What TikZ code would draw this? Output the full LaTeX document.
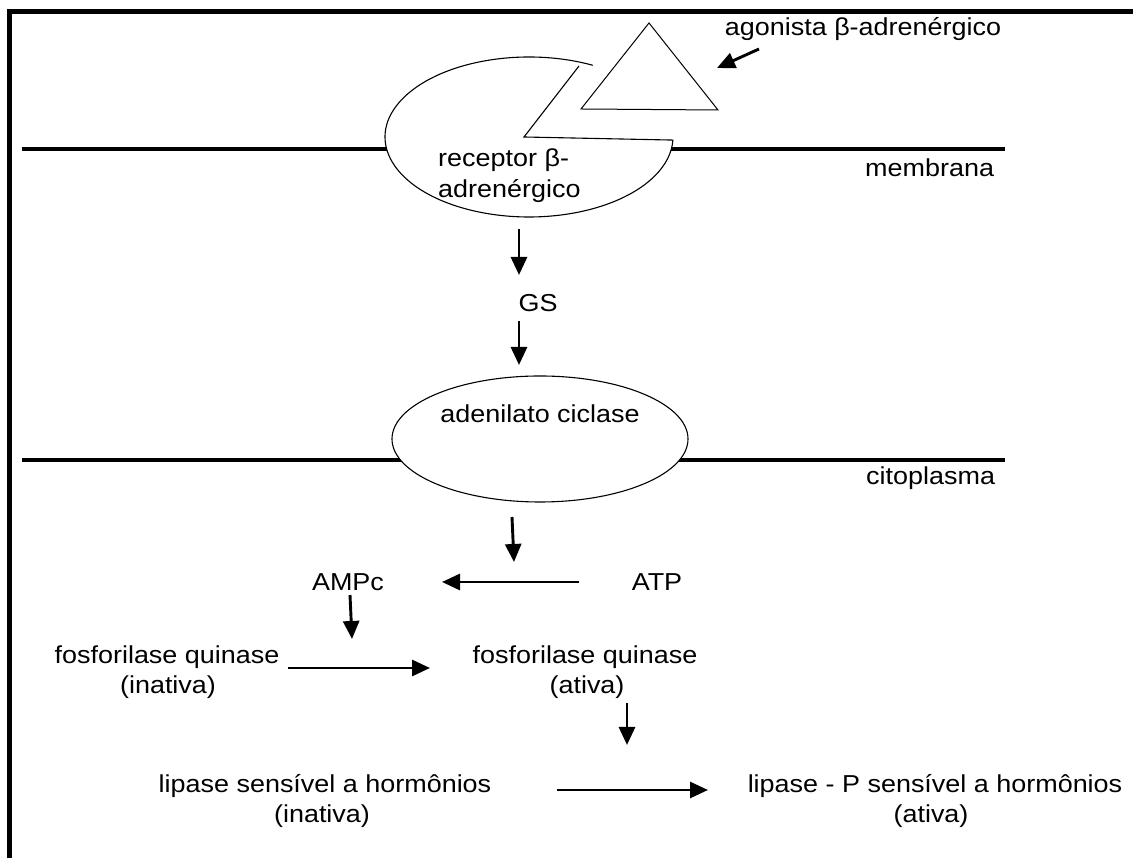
\documentclass[tikz,border=0pt]{standalone}
\usepackage{fontspec}
\setmainfont{Liberation Sans}
\usepackage{graphicx}
\usetikzlibrary{arrows.meta}
\newcommand\sx[1]{\scalebox{1.1}[1]{#1}}
\begin{document}
\begin{tikzpicture}[x=1pt,y=1pt,
  lbl/.style={inner sep=0pt, font=\fontsize{24.5}{29}\selectfont},
  arr/.style={line width=2.9pt, -{Triangle[length=18pt,width=16pt]}},
  memb/.style={line width=4pt},
  frameline/.style={line width=5pt},
  cellshape/.style={line width=1.1pt, fill=white}]
\useasboundingbox (0,0) rectangle (1133,858);
% frame
\draw[frameline] (9.5,-10) -- (9.5,846.5) -- (1150,846.5);
% membranes
\draw[memb] (22,709) -- (1005,709);
\draw[memb] (22,398) -- (1005,398);
% receptor with notch
\filldraw[cellshape] (592.8,792.7) arc[start angle=63.7, end angle=357.8, x radius=144, y radius=80] -- (524,721) -- (579,792);
% agonist triangle
\draw[line width=1pt] (649,835) -- (581,749) -- (718,748) -- cycle;
% adenylate cyclase
\filldraw[cellshape] (540,419) ellipse [x radius=148, y radius=63];
% labels
\node[lbl, anchor=base] (agon) at (863,822) {\sx{agonista β-adrenérgico}};
\node[lbl, anchor=base west] (rec1) at (438,691) {\sx{receptor β-}};
\node[lbl, anchor=base west] (rec2) at (438,660) {\sx{adrenérgico}};
\node[lbl, anchor=base west] (memb) at (865,681) {\sx{membrana}};
\node[lbl, anchor=base] (gs) at (538,546) {\sx{GS}};
\node[lbl, anchor=base] (adc) at (540,435) {\sx{adenilato ciclase}};
\node[lbl, anchor=base west] (cito) at (866,373) {\sx{citoplasma}};
\node[lbl, anchor=base] (amp) at (348,267) {\sx{AMPc}};
\node[lbl, anchor=base] (atp) at (657,267) {\sx{ATP}};
\node[lbl, anchor=base] (fq1) at (167,194) {\sx{fosforilase quinase}};
\node[lbl, anchor=base] (fq1b) at (168,164) {\sx{(inativa)}};
\node[lbl, anchor=base] (fq2) at (585,194) {\sx{fosforilase quinase}};
\node[lbl, anchor=base] (fq2b) at (587,164) {\sx{(ativa)}};
\node[lbl, anchor=base] (lp1) at (325,65) {\sx{lipase sensível a hormônios}};
\node[lbl, anchor=base] (lp1b) at (322,35) {\sx{(inativa)}};
\node[lbl, anchor=base] (lp2) at (935,65) {\sx{lipase - P sensível a hormônios}};
\node[lbl, anchor=base] (lp2b) at (931,35) {\sx{(ativa)}};
% arrow end points
\coordinate (agS) at (759,809);
\coordinate (agE) at (717,790);
\coordinate (r1S) at (519,629);
\coordinate (r1E) at (519,583);
\coordinate (g1S) at (519,537);
\coordinate (g1E) at (519,493);
\coordinate (c1S) at (512,341);
\coordinate (c1E) at (514,296);
\coordinate (atS) at (579,276);
\coordinate (atE) at (442,276);
\coordinate (amS) at (350,263);
\coordinate (amE) at (352,219);
\coordinate (fqS) at (288,190);
\coordinate (fqE) at (430,190);
\coordinate (fdS) at (627,155);
\coordinate (fdE) at (627,113);
\coordinate (lpS) at (557,68);
\coordinate (lpE) at (708,68);
% arrows
\draw[arr] (agS) -- (agE);
\draw[arr] (r1S) -- (r1E);
\draw[arr] (g1S) -- (g1E);
\draw[arr] (c1S) -- (c1E);
\draw[arr] (atS) -- (atE);
\draw[arr] (amS) -- (amE);
\draw[arr] (fqS) -- (fqE);
\draw[arr] (fdS) -- (fdE);
\draw[arr] (lpS) -- (lpE);
\end{tikzpicture}
\end{document}
